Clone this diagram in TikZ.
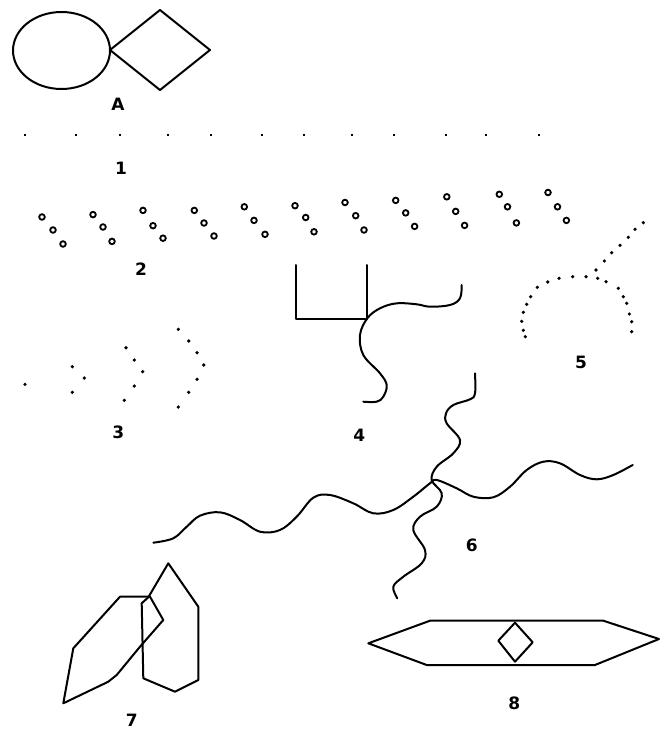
\documentclass[tikz,border=0pt]{standalone}
\usepackage{fontspec}
\setmainfont{DejaVu Sans}
\begin{document}
\begin{tikzpicture}[x=1pt,y=-1pt,
  stroke/.style={line width=2pt, line join=round, line cap=round},
  lbl/.style={font=\fontsize{17}{17}\selectfont\bfseries, inner sep=0pt},
  dotm/.style={fill=black, draw=none},
  ring/.style={draw=black, line width=1.8pt, fill=white}]
\useasboundingbox (0,0) rectangle (660,730);
\fill[white] (0,0) rectangle (660,730);
% A
\draw[stroke] (61.5,50.5) ellipse [x radius=48.5, y radius=38.5];
\draw[stroke] (110,50) -- (160,10) -- (210,50) -- (160,90) -- cycle;
\node[lbl] (labA) at (118,104) {A};
% 1
\foreach \x in {25,76,120,168,211,262,304,352,394,446,486,539}
  \fill[dotm] (\x-1.4,133.6) rectangle (\x+1.4,136.4);
\node[lbl] (lab1) at (121,168) {1};
% 2
\foreach \p in {(42,217),(53,230),(63,244),(93,214.6),(103,227),(112,241.4),
  (143,210.4),(153,225.7),(163,238.2),(194.3,210.4),(204,223),(214,236),
  (244.3,206.8),(254,220.4),(265,234.3),(295,205.7),(305.7,217.5),(314,231.8),
  (345,202.5),(355.7,215.7),(364,230),(395.7,200.4),(405.7,212.9),(414.6,226.4),
  (446.8,196.8),(455.7,211.4),(464.6,225.4),(499.3,194.3),(507.5,206.8),(516.4,222.9),
  (548,192.5),(557.5,206.8),(566.4,220.4)}
  \draw[ring] \p circle[radius=2.8];
\node[lbl] (lab2) at (141,269) {2};
% 3
\foreach \p in {(25,384.3),(72.3,366.7),(84.3,378),(72.3,392.3),
  (126,347.7),(134.3,360),(142.7,371.7),(134.3,386),(124.3,400.3),
  (178.3,329.3),(188.7,341),(197,352.7),(203.7,365),(197,379.3),(188.7,392.3),(178.3,407)}
  \fill[dotm] \p circle[radius=1.8];
\node[lbl] (lab3) at (118.3,432) {3};
% 4
\draw[stroke] (295.7,265) -- (295.7,319.3) -- (367.3,319.3) -- (367.3,265);
\draw[stroke] plot[smooth, tension=0.6] coordinates {(461.7,285) (460,298.3) (450,305) (430,306.7) (416.7,304.3) (396.7,303.3) (380,308.3) (367.3,318.3) (360,335) (363.3,355) (380,373.3) (386.7,385) (383.3,396.7) (376.7,401.7) (363.3,401.7)};
\node[lbl] (lab4) at (359.3,435) {4};
% 5
\foreach \p in {(643.3,222.7),(635,229.3),(628.3,237.3),(620,245.3),(611.7,252.7),(604.3,261),(596,270),
  (586,276.7),(597.7,278.3),(606,281.7),(572.7,276.7),(559,278.3),(547.7,282),(537.3,287.3),
  (530.7,296.7),(526.7,304.3),(523.3,312.3),(521.7,321.3),(523.3,330.3),(525.3,336.7),
  (618.3,288.3),(623.3,296.7),(626.7,303.3),(629.3,314),(631.7,321.7),(631.7,331.7)}
  \fill[dotm] \p circle[radius=1.8];
\node[lbl] (lab5) at (581,362.7) {5};
% 6
\draw[stroke] plot[smooth, tension=0.6] coordinates {(153.3,542.7) (173.3,538.3) (186.7,526.7) (200,515.7) (220,512.3) (240,520) (260,531.7) (280,530) (296.7,516.7) (313.3,497.7) (330,495) (353.3,503.3) (373.3,513.3) (393.3,510) (413.3,496.7) (430,483.3) (436.7,480) (456.7,488.3) (473.3,496.7) (493.3,497.3) (510,486.7) (526.7,470) (543.3,461.7) (560,463.3) (580,475) (596.7,479.3) (613.3,475) (632.7,465)};
\draw[stroke] plot[smooth, tension=0.6] coordinates {(475,373.3) (475,393.3) (470,399.3) (453.3,405) (446,413.3) (446.7,423.3) (460,440) (453.3,453.3) (436.7,466.7) (431.7,480) (441.7,493.3) (436.7,506.7) (420,516.7) (413.3,530) (425,550) (421.7,563.3) (403.3,576.7) (393.3,586.7) (397.3,598.3)};
\node[lbl] (lab6) at (471.7,545.7) {6};
% 7
\draw[stroke] (63.3,703.3) -- (73.3,648.3) -- (120,596.7) -- (150,596.7) -- (163.3,620) -- (140,646.7) -- (116.7,675) -- (108.3,681.7) -- cycle;
\draw[stroke] (168.3,563.3) -- (198.3,606.7) -- (198.3,680) -- (175,691.7) -- (143.3,678.3) -- (141.7,603.3) -- (148.3,597.3) -- cycle;
\node[lbl] (lab7) at (131.7,720) {7};
% 8
\draw[stroke] (368.3,643.3) -- (430,620.7) -- (603.3,620.7) -- (659,639) -- (595,665) -- (426.7,665) -- cycle;
\draw[stroke] (515,622.7) -- (532.7,642.3) -- (515,661.7) -- (498.3,640.7) -- cycle;
\node[lbl] (lab8) at (514.3,703.3) {8};
\end{tikzpicture}
\end{document}
